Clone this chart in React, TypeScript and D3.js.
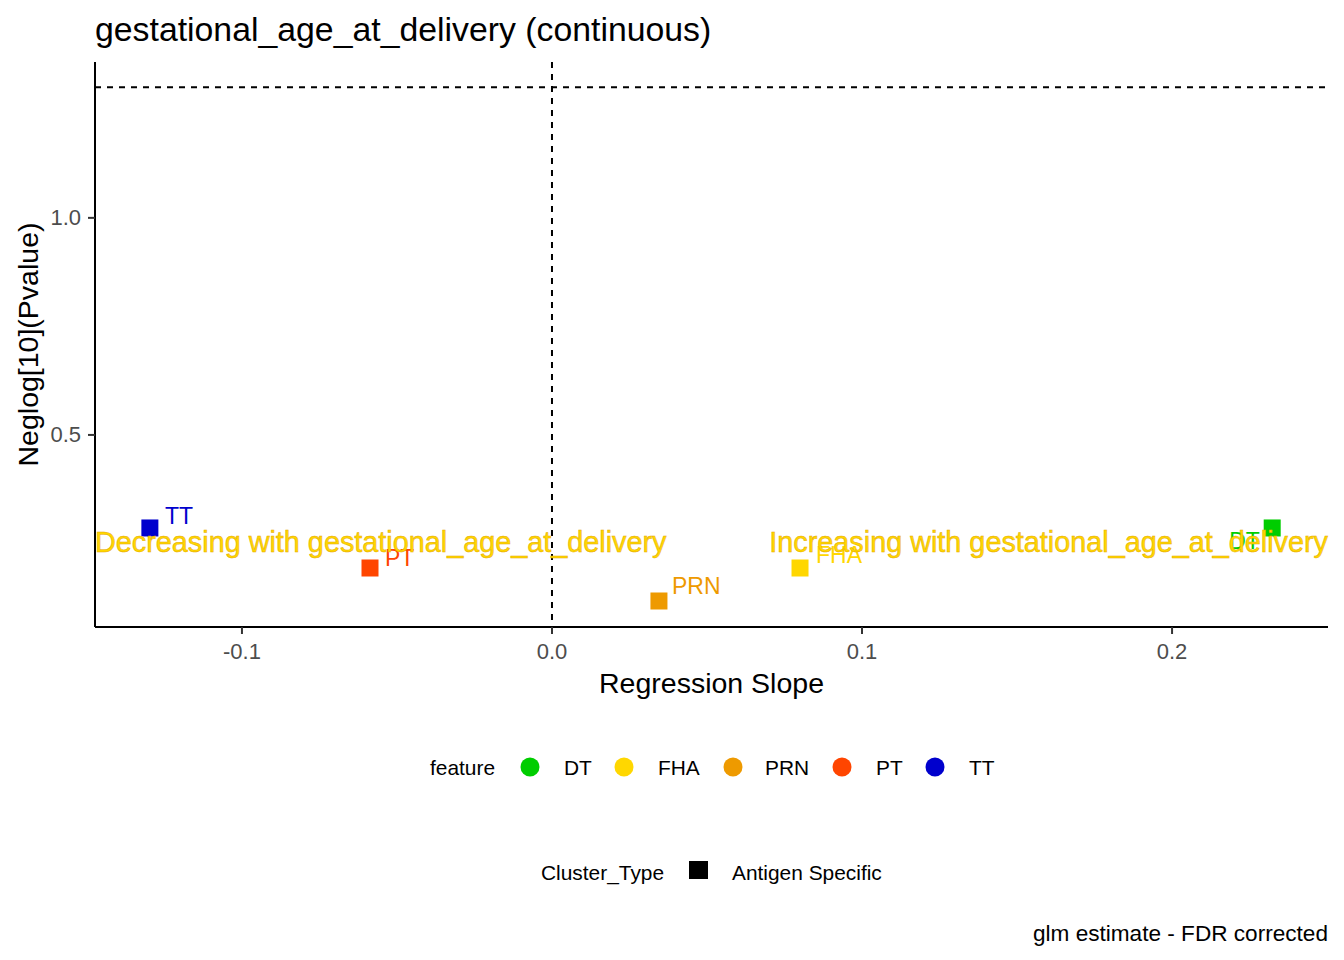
import * as React from "react";
import * as d3 from "d3";

// data
const features = ["DT", "FHA", "PRN", "PT", "TT"];
const featureColors = ["#00CD00", "#FFD700", "#EE9A00", "#FF4500", "#0000CD"];
const slopes = [0.2323, 0.08, 0.0345, -0.0587, -0.1297];
const neglogP = [0.2857, 0.1935, 0.1175, 0.1935, 0.2857];
const xTicks = [-0.1, 0.0, 0.1, 0.2];
const yTicks = [0.5, 1.0];
const pThreshold = 0.05;

const W = 1344, H = 960;
const margin = { left: 95, right: 16, top: 62, bottom: 333 };
const FONT = "'Liberation Sans', Arial, sans-serif";

// label nudges (px) roughly where ggrepel put them
const labelNudge: Record<string, [number, number]> = {
    DT: [-43, 13],
    FHA: [16, -13],
    PRN: [13, -15],
    PT: [15, -10],
    TT: [15, -12],
};

export default function App() {
    const x = d3.scaleLinear().domain([-0.1474, 0.2503]).range([margin.left, W - margin.right]);
    const y = d3.scaleLinear().domain([0.0576, 1.359]).range([H - margin.bottom, margin.top]);
    const color = d3.scaleOrdinal<string, string>().domain(features).range(featureColors);
    const fmt = (v: number) => d3.format(".1f")(v).replace("\u2212", "-");
    const x0 = x.range()[0], x1 = x.range()[1];
    const yb = y.range()[0], yt = y.range()[1];
    const sq = 17;
    const annoY = y(0.2535);

    const legendItems = [
        { cx: 530, lx: 564 }, { cx: 624, lx: 658 }, { cx: 733, lx: 765 },
        { cx: 842, lx: 876 }, { cx: 935, lx: 969 },
    ];

    return (
        <svg width={W} height={H} style={{ position: "absolute", left: 0, top: 0, background: "#fff" }} fontFamily={FONT}>
            <rect width={W} height={H} fill="#fff" />
            <text x={95} y={41} fontSize={33.8} fill="#000">gestational_age_at_delivery (continuous)</text>

            {/* reference lines */}
            <line x1={x(0)} x2={x(0)} y1={yt} y2={yb} stroke="#000" strokeWidth={2} strokeDasharray="6,6" />
            <line x1={x0} x2={x1} y1={y(-Math.log10(pThreshold))} y2={y(-Math.log10(pThreshold))} stroke="#000" strokeWidth={2} strokeDasharray="6,6" />

            {/* points */}
            {features.map((f, i) => (
                <rect key={f} x={x(slopes[i]) - sq / 2} y={y(neglogP[i]) - sq / 2} width={sq} height={sq} fill={color(f)} />
            ))}

            {/* point labels */}
            {features.map((f, i) => {
                const [dx, dy] = labelNudge[f];
                return (
                    <text key={f} x={x(slopes[i]) + dx} y={y(neglogP[i]) + dy} fontSize={23} fill={color(f)} dominantBaseline="central">{f}</text>
                );
            })}

            {/* annotations */}
            <text x={x0} y={annoY} fontSize={28.8} fill="#FFD700" stroke="#E6A800" strokeWidth={0.5} dominantBaseline="central">Decreasing with gestational_age_at_delivery</text>
            <text x={x1} y={annoY} fontSize={28.8} fill="#FFD700" stroke="#E6A800" strokeWidth={0.5} dominantBaseline="central" textAnchor="end">Increasing with gestational_age_at_delivery</text>

            {/* axes */}
            <line x1={x0} x2={x1} y1={yb} y2={yb} stroke="#000" strokeWidth={2} />
            <line x1={x0} x2={x0} y1={yt} y2={yb} stroke="#000" strokeWidth={2} />
            {xTicks.map(t => (
                <g key={t}>
                    <line x1={x(t)} x2={x(t)} y1={yb} y2={yb + 7} stroke="#333" strokeWidth={2} />
                    <text x={x(t)} y={651} fontSize={22} fill="#4D4D4D" textAnchor="middle" dominantBaseline="central">{fmt(t)}</text>
                </g>
            ))}
            {yTicks.map(t => (
                <g key={t}>
                    <line x1={x0 - 7} x2={x0} y1={y(t)} y2={y(t)} stroke="#333" strokeWidth={2} />
                    <text x={x0 - 14} y={y(t)} fontSize={22} fill="#4D4D4D" textAnchor="end" dominantBaseline="central">{fmt(t)}</text>
                </g>
            ))}
            <text x={(x0 + x1) / 2} y={693} fontSize={28.5} textAnchor="middle" fill="#000">Regression Slope</text>
            <text transform={`translate(38,${(yt + yb) / 2}) rotate(-90)`} fontSize={28.5} textAnchor="middle" fill="#000">Neglog[10](Pvalue)</text>

            {/* legends */}
            <text x={430} y={767} fontSize={20.9} dominantBaseline="central" fill="#000">feature</text>
            {features.map((f, i) => (
                <g key={f}>
                    <circle cx={legendItems[i].cx} cy={767} r={9.5} fill={color(f)} />
                    <text x={legendItems[i].lx} y={767} fontSize={20.9} dominantBaseline="central" fill="#000">{f}</text>
                </g>
            ))}
            <text x={541} y={872} fontSize={20.9} dominantBaseline="central" fill="#000">Cluster_Type</text>
            <rect x={689} y={861} width={19} height={18} fill="#000" />
            <text x={732} y={872} fontSize={20.9} dominantBaseline="central" fill="#000">Antigen Specific</text>

            <text x={x1} y={933} fontSize={22.6} textAnchor="end" dominantBaseline="central" fill="#000">glm estimate - FDR corrected</text>
        </svg>
    );
}
